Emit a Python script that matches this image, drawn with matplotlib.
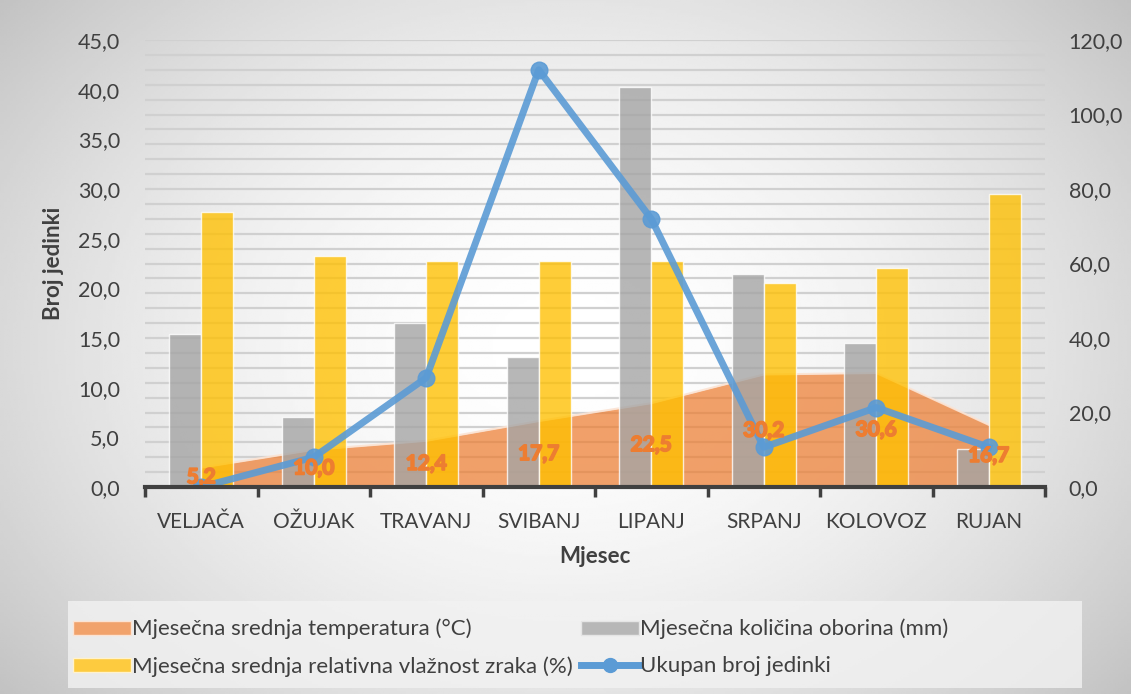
import numpy as np
import matplotlib
matplotlib.use("Agg")
import matplotlib.pyplot as plt
import matplotlib.patheffects as pe
from matplotlib.patches import Patch, Rectangle
from matplotlib.lines import Line2D
from matplotlib.ticker import MultipleLocator, FuncFormatter

plt.rcParams['font.family'] = ['Lato', 'DejaVu Sans']

months = ["VELJAČA", "OŽUJAK", "TRAVANJ", "SVIBANJ", "LIPANJ", "SRPANJ", "KOLOVOZ", "RUJAN"]
temperatura = [5.2, 10.0, 12.4, 17.7, 22.5, 30.2, 30.6, 16.7]          # right axis
oborine = [41.0, 18.8, 44.0, 35.0, 107.5, 57.3, 38.7, 10.1]             # right axis
vlaznost = [73.9, 61.9, 60.8, 60.8, 60.8, 54.7, 58.7, 78.7]             # right axis
jedinke = [0, 3, 11, 42, 27, 4, 8, 4]                                    # left axis

lbl_temp = "Mjesečna srednja temperatura (°C)"
lbl_obor = "Mjesečna količina oborina (mm)"
lbl_vlaz = "Mjesečna srednja relativna vlažnost zraka (%)"
lbl_jed = "Ukupan broj jedinki"

W, H = 1131, 694
fig = plt.figure(figsize=(W / 100, H / 100), dpi=100)

# radial gradient background
bg = fig.add_axes([0, 0, 1, 1], zorder=-10)
yy, xx = np.mgrid[0:1:300j, 0:1:400j]
r = np.sqrt(((xx - 0.5) / 0.62) ** 2 + ((yy - 0.5) / 0.75) ** 2)
val = np.clip(1.0 - 0.22 * np.clip(r, 0, 1.2) ** 1.8, 0, 1)
bg.imshow(val, cmap='gray', vmin=0, vmax=1, aspect='auto', extent=[0, 1, 0, 1])
bg.set_axis_off()

ax = fig.add_axes([145 / W, 1 - 487 / H, 900 / W, 447 / H])
ax2 = ax.twinx()
ax.set_zorder(ax2.get_zorder() + 1)
ax.patch.set_visible(False)
ax2.patch.set_visible(False)

x = np.arange(len(months))
bw = 0.285

# area (temperature) on secondary axis
ax2.fill_between(x, temperatura, 0, color='#ED7D31', alpha=0.72, linewidth=0, zorder=2)
ax2.plot(x, temperatura, color='#FBE3D3', lw=1.5, alpha=0.9, zorder=2.1)

# bars on secondary axis
ax2.bar(x - bw / 2, oborine, bw, color='#A5A5A5', alpha=0.8, edgecolor=(1, 1, 1, 0.6), linewidth=1, zorder=3)
ax2.bar(x + bw / 2, vlaznost, bw, color='#FFC000', alpha=0.78, edgecolor=(1, 1, 1, 0.6), linewidth=1, zorder=3)

# line on primary axis
ax.plot(x, jedinke, color='#5B9BD5', lw=5, marker='o', ms=12, alpha=0.9,
        solid_joinstyle='round', zorder=5)

# temperature labels (drawn above the line, in secondary-axis data coords)
for xi, t in zip(x, temperatura):
    ax.text(xi, t / 2, f"{t:.1f}".replace('.', ','), transform=ax2.transData,
            ha='center', va='center', color='#ED7D31', fontsize=15,
            fontweight='bold', zorder=6,
            path_effects=[pe.withStroke(linewidth=1.3, foreground='#ED7D31')])

# axes ranges and ticks
ax.set_xlim(-0.5, len(months) - 0.5)
ax.set_ylim(0, 45)
ax2.set_ylim(0, 120)

fmt = FuncFormatter(lambda v, p: f"{v:.1f}".replace('.', ','))
ax.yaxis.set_major_locator(MultipleLocator(5))
ax.yaxis.set_major_formatter(fmt)
ax2.yaxis.set_major_locator(MultipleLocator(20))
ax2.yaxis.set_major_formatter(fmt)
ax2.yaxis.set_minor_locator(MultipleLocator(4))

ax2.grid(True, which='both', axis='y', color='#D0D0D0', lw=1.6, zorder=0)
ax2.set_axisbelow(True)

ax.set_xticks(np.arange(-0.5, len(months), 1.0))
ax.set_xticklabels([])
ax.set_xticks(x, minor=True)
ax.set_xticklabels(months, minor=True)
ax.tick_params(axis='x', which='major', length=7, width=2.5, color='#404040', direction='out')
ax.tick_params(axis='x', which='minor', length=0, pad=18, labelsize=15, labelcolor='#404040')
ax.tick_params(axis='y', length=0, pad=18, labelsize=15.5, labelcolor='#404040')
ax2.tick_params(axis='y', which='both', length=0, pad=17, labelsize=15.5, labelcolor='#404040')
ax2.tick_params(axis='x', length=0)

for a in (ax, ax2):
    for s in ('top', 'left', 'right'):
        a.spines[s].set_visible(False)
ax2.spines['bottom'].set_visible(False)
ax.spines['bottom'].set_color('#404040')
ax.spines['bottom'].set_linewidth(3)
ax.spines['bottom'].set_zorder(7)

ax.set_ylabel("Broj jedinki", fontsize=16, fontweight='bold', color='#404040', labelpad=10)
ax.set_xlabel("Mjesec", fontsize=16, fontweight='bold', color='#404040', labelpad=10)

# legend box
fig.patches.append(Rectangle((68 / W, 1 - 688 / H), (1082 - 68) / W, (688 - 601) / H,
                             transform=fig.transFigure, facecolor='#F2F2F2', alpha=0.8,
                             edgecolor='none', zorder=1))
handles = [
    Patch(facecolor='#F1A26B', edgecolor='#FBE3D3', label=lbl_temp),
    Patch(facecolor='#FDCB3F', edgecolor='#FFF2CC', label=lbl_vlaz),
    Patch(facecolor='#B7B7B7', edgecolor='#E5E5E5', label=lbl_obor),
    Line2D([0], [0], color='#5B9BD5', lw=5, marker='o', ms=10, label=lbl_jed),
]
leg = fig.legend(handles=handles, ncol=2, loc='upper left',
                 bbox_to_anchor=(64 / W, 1 - 610 / H), frameon=False,
                 fontsize=16, handlelength=2.6, handleheight=0.6,
                 handletextpad=0.05, columnspacing=0.4, labelspacing=0.75,
                 borderaxespad=0, labelcolor='#404040')

fig.savefig("out.png", dpi=100)
